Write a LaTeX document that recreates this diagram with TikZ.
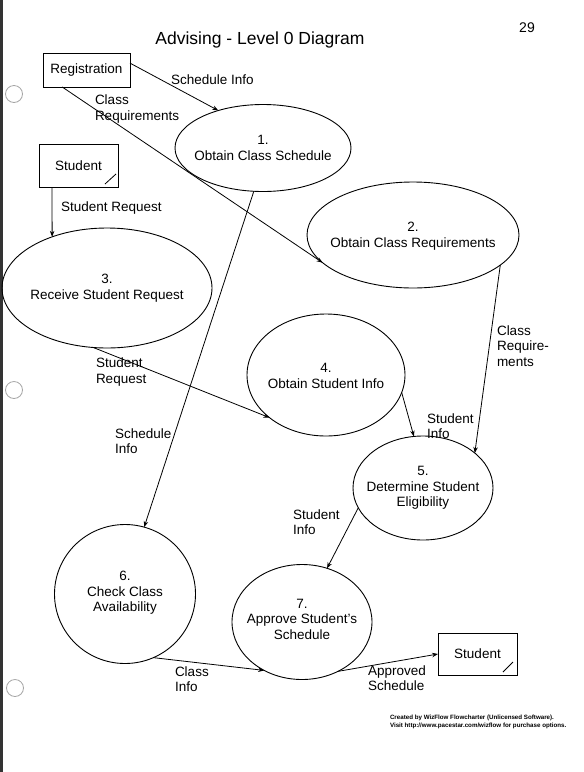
\documentclass[tikz,border=0pt]{standalone}
\usepackage{fontspec}
\setmainfont{Liberation Sans}
\usetikzlibrary{arrows.meta,shapes.geometric}
\begin{document}
\begin{tikzpicture}[x=1pt,y=-1pt,
  every node/.style={outer sep=0pt},
  proc/.style={ellipse, draw, line width=0.9pt, inner sep=0pt},
  ext/.style={rectangle, draw, line width=0.9pt, inner sep=0pt},
  ptext/.style={align=center, font=\fontsize{13.5}{15.5}\selectfont, inner sep=0pt},
  lbl/.style={align=left, anchor=west, font=\fontsize{13.5}{15.5}\selectfont, inner sep=0pt},
  flow/.style={line width=0.8pt, -{Stealth[length=6pt,width=4.5pt]}},
  hole/.style={draw=black!35, line width=0.8pt}
]
\useasboundingbox (0,0) rectangle (584,772);
% scan page edge and punch holes
\fill[black!80] (0,0) rectangle (3,772);
\draw[hole] (14,94) circle (8.5pt);
\draw[hole] (14,390) circle (8.5pt);
\draw[hole] (15,688) circle (8.5pt);

% title and page number
\node[font=\fontsize{17.5}{20}\selectfont, inner sep=0pt] (title) at (260,40) {Advising - Level 0 Diagram};
\node[font=\fontsize{14}{16}\selectfont, inner sep=0pt] (pageno) at (527,28) {29};

% external entities
\node[ext, minimum width=87pt, minimum height=34pt, font=\fontsize{13.5}{15.5}\selectfont] (reg) at (86.5,70) {Registration};
\node[ext, minimum width=79pt, minimum height=43pt, font=\fontsize{13.5}{15.5}\selectfont] (s1) at (78.5,165.5) {Student};
\node[ext, minimum width=79pt, minimum height=42pt, font=\fontsize{13.5}{15.5}\selectfont] (s2) at (477.5,654) {Student};
\draw[line width=0.8pt] ([shift={(-13pt,3pt)}]s1.south east) -- ([shift={(-2pt,13pt)}]s1.south east);
\draw[line width=0.8pt] ([shift={(-14pt,3pt)}]s2.south east) -- ([shift={(-4pt,13pt)}]s2.south east);

% processes
\node[proc, minimum width=176pt, minimum height=87pt] (e1) at (263,148) {};
\node[proc, minimum width=212pt, minimum height=106pt] (e2) at (413,235) {};
\node[proc, minimum width=210pt, minimum height=120pt] (e3) at (107,288) {};
\node[proc, minimum width=158pt, minimum height=122pt] (e4) at (326,375) {};
\node[proc, minimum width=140pt, minimum height=104pt] (e5) at (423,488) {};
\node[proc, minimum width=141pt, minimum height=139pt] (e6) at (125,594) {};
\node[proc, minimum width=140pt, minimum height=115pt] (e7) at (302,622) {};

\node[ptext] (t1) at (263,148) {1.\\Obtain Class Schedule};
\node[ptext] (t2) at (413,236) {2.\\Obtain Class Requirements};
\node[ptext] (t3) at (107,288) {3.\\Receive Student Request};
\node[ptext] (t4) at (326,376) {4.\\Obtain Student Info};
\node[ptext] (t5) at (423,488) {5.\\Determine Student\\Eligibility};
\node[ptext] (t6) at (125,593) {6.\\Check Class\\Availability};
\node[ptext] (t7) at (302,619) {7.\\Approve Student's\\Schedule};

% flows
\draw[flow] (reg.9) -- (e1.140);
\draw[flow] (reg.215) -- (e2.197);
\draw[flow] ([xshift=-26.5pt]s1.south) -- (e3.137.2);
\draw[flow] (e1.258.4) -- (e6.74.7);
\draw[flow] (e2.341.8) -- (e5.34.2);
\draw[flow] (e3.257) -- (e4.217.9);
\draw[flow] (e4.347.2) -- (e5.100.9);
\draw[flow] (e5.197.3) -- (e7.65.5);
\draw[flow] (e6.294.7) -- (e7.232.9);
\draw[flow] (e7.306.9) -- (s2.west);

% flow labels
\node[lbl] (l1) at (171,80) {Schedule Info};
\node[lbl] (l2) at (95,109) {Class\\Requirements};
\node[lbl] (l3) at (61,208) {Student Request};
\node[lbl] (l4) at (497,346) {Class\\Require-\\ments};
\node[lbl] (l5) at (427,426) {Student\\Info};
\node[lbl] (l6) at (96,372) {Student\\Request};
\node[lbl] (l7) at (115,441) {Schedule\\Info};
\node[lbl] (l8) at (293,522) {Student\\Info};
\node[lbl] (l9) at (175,679) {Class\\Info};
\node[lbl] (l10) at (368,678) {Approved\\Schedule};

% footer
\node[align=left, anchor=west, inner sep=0pt, font=\fontsize{6.2}{8}\selectfont\bfseries] (foot) at (390,722) {Created by WizFlow Flowcharter (Unlicensed Software).\\Visit http://www.pacestar.com/wizflow for purchase options.};
\end{tikzpicture}
\end{document}
